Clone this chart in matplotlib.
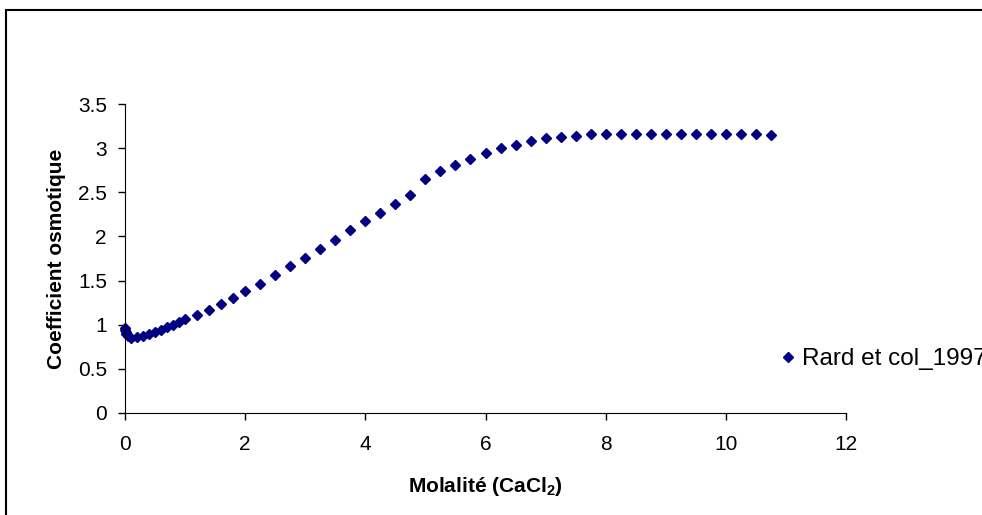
import matplotlib

matplotlib.use("Agg")
import matplotlib.pyplot as plt
from matplotlib.patches import Rectangle

plt.rcParams.update({"font.family": ["Liberation Sans", "DejaVu Sans"], "font.size": 15})

# Rard et col. 1997, osmotic coefficient of CaCl2 vs molality
molality = [0.001, 0.005, 0.01, 0.02, 0.05,
            0.1, 0.2, 0.3, 0.4, 0.5, 0.6, 0.7, 0.8, 0.9, 1.0,
            1.2, 1.4, 1.6, 1.8, 2.0,
            2.25, 2.5, 2.75, 3.0, 3.25, 3.5, 3.75, 4.0, 4.25, 4.5, 4.75,
            5.0, 5.25, 5.5, 5.75, 6.0, 6.25, 6.5, 6.75, 7.0, 7.25, 7.5, 7.75,
            8.0, 8.25, 8.5, 8.75, 9.0, 9.25, 9.5, 9.75, 10.0, 10.25, 10.5, 10.75]
phi = [0.96, 0.94, 0.92, 0.90, 0.87,
       0.855, 0.857, 0.87, 0.89, 0.92, 0.945, 0.975, 1.0, 1.03, 1.06,
       1.11, 1.17, 1.24, 1.30, 1.38,
       1.46, 1.56, 1.66, 1.76, 1.86, 1.96, 2.07, 2.17, 2.27, 2.37, 2.47,
       2.65, 2.74, 2.81, 2.88, 2.95, 3.0, 3.04, 3.08, 3.11, 3.125, 3.14, 3.155,
       3.16, 3.165, 3.165, 3.165, 3.165, 3.16, 3.16, 3.16, 3.155, 3.155, 3.155, 3.15]

xticks = [0, 2, 4, 6, 8, 10, 12]
yticks = [0, 0.5, 1, 1.5, 2, 2.5, 3, 3.5]
ytick_labels = ["0", "0.5", "1", "1.5", "2", "2.5", "3", "3.5"]

fig = plt.figure(figsize=(9.82, 5.15), dpi=100)
ax = fig.add_axes([125 / 982, 1 - 413 / 515, 721 / 982, 309 / 515])

ax.plot(molality, phi, linestyle="none", marker="D", markersize=5,
        color="#000080", label="Rard et col_1997", clip_on=False)

ax.set_xlim(0, 12)
ax.set_ylim(0, 3.5)
ax.set_xticks(xticks)
ax.set_yticks(yticks)
ax.set_yticklabels(ytick_labels)
ax.spines["top"].set_visible(False)
ax.spines["right"].set_visible(False)
ax.tick_params(direction="out", length=5, width=1)
ax.tick_params(axis="x", pad=11)
ax.tick_params(axis="y", pad=8)

ax.set_xlabel(r"Molalité (CaCl$_\mathregular{2}$)", fontweight="bold", fontsize=15)
ax.set_ylabel("Coefficient osmotique", fontweight="bold", fontsize=15)
ax.xaxis.label.set_va("center")
ax.yaxis.label.set_va("center")
ax.xaxis.set_label_coords(0.5, (413 - 487) / 309)
ax.yaxis.set_label_coords((56 - 125) / 721, 0.5)

ax.legend(loc="center left", bbox_to_anchor=(779 / 982, 1 - 359 / 515),
          bbox_transform=fig.transFigure, frameon=False, handlelength=0.7,
          handletextpad=0.25, borderpad=0, borderaxespad=0, fontsize=17.5)

# outer chart frame
fig.patches.append(Rectangle((6 / 982, -0.05), 1.1, 1 - 10 / 515 + 0.05,
                             transform=fig.transFigure, fill=False,
                             edgecolor="black", linewidth=1.5))

fig.savefig("out.png", dpi=100)
